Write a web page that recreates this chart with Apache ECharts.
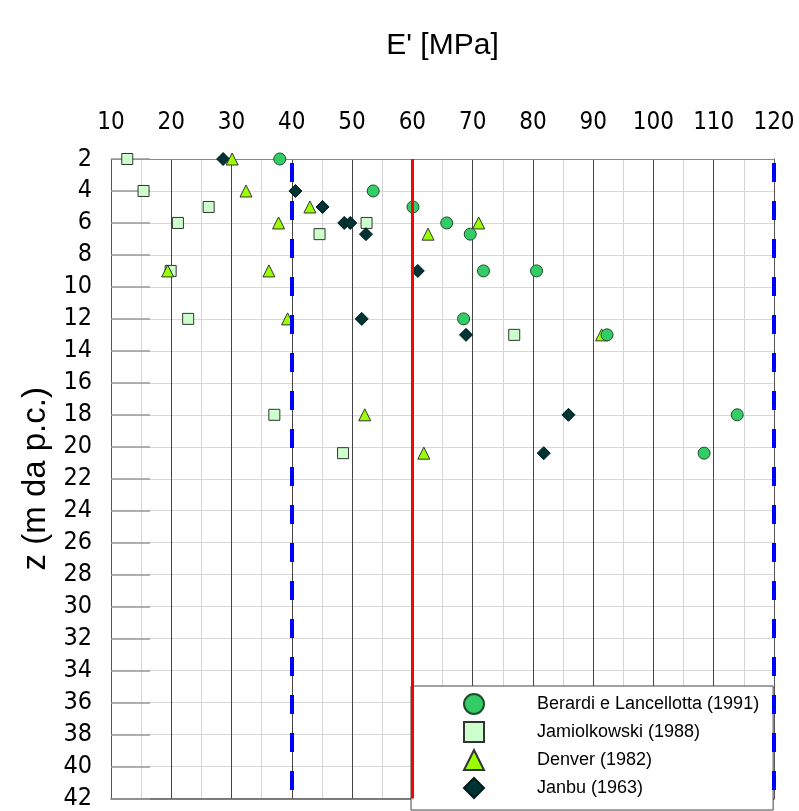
<!DOCTYPE html>
<html>
<head>
<meta charset="utf-8">
<script src="https://cdn.jsdelivr.net/npm/echarts@6/dist/echarts.min.js"></script>
<style>
html,body{margin:0;padding:0;background:#fff;}
#chart{width:799px;height:811px;}
</style>
</head>
<body>
<div id="chart"></div>
<script>
// ---- data ----
const xTicks = [10, 20, 30, 40, 50, 60, 70, 80, 90, 100, 110, 120];
const zTicks = [2, 4, 6, 8, 10, 12, 14, 16, 18, 20, 22, 24, 26, 28, 30, 32, 34, 36, 38, 40, 42];

const berardiE = [38, 53.5, 60.1, 65.7, 69.6, 71.8, 80.6, 68.5, 92.3, 113.9, 108.4];
const berardiZ = [2, 4, 5, 6, 6.7, 9, 9, 12, 13, 18, 20.4];

const jamE = [12.7, 15.4, 26.2, 21.1, 52.4, 44.6, 19.9, 22.8, 76.9, 37.1, 48.5];
const jamZ = [2, 4, 5, 6, 6, 6.7, 9, 12, 13, 18, 20.4];

const denverE = [30.1, 32.4, 43.0, 37.8, 71.0, 62.6, 19.4, 36.2, 39.3, 91.4, 52.1, 61.9];
const denverZ = [2, 4, 5, 6, 6, 6.7, 9, 9, 12, 13, 18, 20.4];

const janbuE = [28.6, 40.6, 45.1, 48.7, 49.7, 52.3, 60.9, 51.6, 68.9, 85.9, 81.8];
const janbuZ = [2, 4, 5, 6, 6, 6.7, 9, 12, 13, 18, 20.4];

const blueLimits = [40, 120];
const redLimit = [60];

const seriesNames = ['Berardi e Lancellotta (1991)', 'Jamiolkowski (1988)', 'Denver (1982)', 'Janbu (1963)'];

// ---- build ----
function pairs(xs, zs) { return xs.map((v, i) => [v, zs[i]]); }

const axisFont = "'DejaVu Sans Condensed', 'DejaVu Sans', sans-serif";
const textFont = "'Liberation Sans', Arial, sans-serif";

const chart = echarts.init(document.getElementById('chart'), null, {renderer: 'canvas'});

const option = {
  animation: false,
  backgroundColor: '#ffffff',
  grid: {left: 111, top: 159, right: 25, bottom: 10, containLabel: false},
  xAxis: [{
    type: 'value', position: 'top', min: xTicks[0], max: xTicks[xTicks.length - 1], interval: 10,
    name: "E' [MPa]", nameLocation: 'middle', nameGap: 98,
    nameTextStyle: {fontFamily: textFont, fontSize: 30, color: '#000'},
    axisLine: {show: true, lineStyle: {color: '#888', width: 1}},
    axisTick: {show: false},
    axisLabel: {fontFamily: axisFont, fontSize: 24, color: '#000', margin: 24},
    splitLine: {show: true, lineStyle: {color: '#444', width: 1}},
    minorTick: {show: false, splitNumber: 2},
    minorSplitLine: {show: true, lineStyle: {color: '#d4d4d4', width: 1}}
  }, {
    type: 'value', position: 'bottom', min: xTicks[0], max: xTicks[xTicks.length - 1], interval: 10,
    axisLine: {show: true, lineStyle: {color: '#555', width: 1.5}},
    axisTick: {show: false}, axisLabel: {show: false}, splitLine: {show: false}
  }],
  yAxis: [{
    type: 'value', inverse: true, min: zTicks[0], max: zTicks[zTicks.length - 1], interval: 2,
    name: 'z (m da p.c.)', nameLocation: 'middle', nameGap: 58,
    nameTextStyle: {fontFamily: textFont, fontSize: 33, color: '#000'},
    axisLine: {show: true, lineStyle: {color: '#555', width: 1}},
    axisTick: {show: true, inside: true, length: 39, lineStyle: {color: '#999', width: 1.5}},
    axisLabel: {fontFamily: axisFont, fontSize: 25, color: '#000', margin: 19},
    splitLine: {show: true, lineStyle: {color: '#d8d8d8', width: 1}}
  }, {
    type: 'value', inverse: true, position: 'right', min: zTicks[0], max: zTicks[zTicks.length - 1], interval: 2,
    axisLine: {show: true, lineStyle: {color: '#555', width: 1}},
    axisTick: {show: false}, axisLabel: {show: false}, splitLine: {show: false}
  }],
  legend: {
    orient: 'vertical', left: 411, top: 686,
    data: seriesNames,
    padding: [7, 14, 11, 52],
    itemGap: 6, itemWidth: 20, itemHeight: 20,
    backgroundColor: '#ffffff', borderColor: '#444', borderWidth: 1,
    textStyle: {fontFamily: textFont, fontSize: 18, color: '#000', padding: [0, 0, 0, 48], width: 224, overflow: 'none'}
  },
  series: [
    {
      name: seriesNames[1], type: 'scatter', symbol: 'rect', symbolSize: 11,
      data: pairs(jamE, jamZ),
      itemStyle: {color: '#ccffcc', borderColor: '#333', borderWidth: 1, opacity: 1}
    },
    {
      name: seriesNames[3], type: 'scatter', symbol: 'diamond', symbolSize: 13,
      data: pairs(janbuE, janbuZ),
      itemStyle: {color: '#003333', borderColor: '#001a1a', borderWidth: 1, opacity: 1}
    },
    {
      name: seriesNames[2], type: 'scatter', symbol: 'triangle', symbolSize: 12,
      data: pairs(denverE, denverZ),
      itemStyle: {color: '#99ff00', borderColor: '#333', borderWidth: 1, opacity: 1}
    },
    {
      name: seriesNames[0], type: 'scatter', symbol: 'circle', symbolSize: 12,
      data: pairs(berardiE, berardiZ),
      itemStyle: {color: '#33cc66', borderColor: '#1f4d2a', borderWidth: 1, opacity: 1}
    },
    {
      type: 'scatter', data: [], silent: true,
      markLine: {
        silent: true, symbol: 'none', animation: false,
        label: {show: false},
        data: blueLimits.map(v => ({xAxis: v, lineStyle: {color: '#0000ff', width: 4, type: [19, 19], dashOffset: -4}}))
          .concat(redLimit.map(v => ({xAxis: v, lineStyle: {color: '#ff0000', width: 3, type: 'solid'}})))
      }
    }
  ]
};
chart.setOption(option);
</script>
</body>
</html>
